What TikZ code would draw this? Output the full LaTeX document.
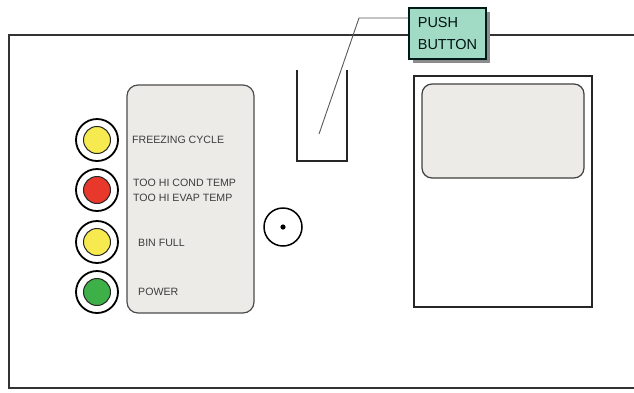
\documentclass[tikz,border=0pt]{standalone}
\usepackage{fontspec}
\setmainfont{Liberation Sans}
\usepackage{tikz}
\usetikzlibrary{shadows}
\definecolor{ledyellow}{RGB}{246, 234, 80}
\definecolor{ledred}{RGB}{232, 56, 44}
\definecolor{ledgreen}{RGB}{62, 176, 72}
\definecolor{panelgray}{RGB}{237, 235, 232}
\definecolor{buttonteal}{RGB}{162, 219, 197}
\definecolor{labelgray}{RGB}{60, 60, 60}

\begin{document}
\begin{tikzpicture}[x=1pt, y=-1pt,
    ledring/.style={circle, draw=black, line width=1.8pt, fill=white, minimum size=42pt, inner sep=0pt},
    ledlamp/.style={circle, draw=black!85, line width=1pt, minimum size=27pt, inner sep=0pt},
    ledtext/.style={anchor=west, inner sep=0pt, text=labelgray, font=\fontsize{10.6}{11}\selectfont}]
    \useasboundingbox (0,0) rectangle (634,392);

    % Cabinet front
    \draw[black!80, line width=1.4pt] (640,35) -- (9,35) -- (9,388) -- (640,388);

    % Indicator panel
    \draw[black!70, fill=panelgray, line width=1.2pt, rounded corners=11pt] (127,85) rectangle (254,313);

    % Lamps
    \node[ledring] (ring1) at (97,140) {};
    \node[ledlamp, fill=ledyellow] (lamp1) at (ring1) {};
    \node[ledring] (ring2) at (97,190) {};
    \node[ledlamp, fill=ledred] (lamp2) at (ring2) {};
    \node[ledring] (ring3) at (97,242) {};
    \node[ledlamp, fill=ledyellow] (lamp3) at (ring3) {};
    \node[ledring] (ring4) at (97,292) {};
    \node[ledlamp, fill=ledgreen] (lamp4) at (ring4) {};

    % Lamp labels
    \node[ledtext] (freeze) at (132,140) {FREEZING CYCLE};
    \node[ledtext] (cond) at (133,183) {TOO HI COND TEMP};
    \node[ledtext] (evap) at (133,198) {TOO HI EVAP TEMP};
    \node[ledtext] (binfull) at (138,243) {BIN FULL};
    \node[ledtext] (power) at (138,292) {POWER};

    % Selector knob
    \node[circle, draw=black, line width=1.5pt, fill=white, minimum size=38pt, inner sep=0pt] (knob) at (283,227) {};
    \fill[black] (knob.center) circle (2.6);

    % Push button recess
    \draw[black!85, line width=1.5pt] (297,70) -- (297,161) -- (347,161) -- (347,70);

    % Display window
    \draw[black!85, line width=1.8pt] (414,76) rectangle (592,307);
    \draw[black!75, fill=panelgray, line width=1.2pt, rounded corners=10pt] (422,84) rectangle (584,178);

    % Push button callout
    \node[draw=black!80!teal, line width=1.3pt, fill=buttonteal, minimum width=77pt, minimum height=51pt,
          align=left, inner sep=0pt, text=black!85!teal, font=\fontsize{14.5}{22}\selectfont,
          drop shadow={shadow xshift=4pt, shadow yshift=-4pt, fill=black!45, opacity=1}]
        (button) at (447.5,33.5) {PUSH\\BUTTON};
    \coordinate (tip) at (319,134);
    \coordinate (bend) at (359,18);
    \draw[black!65, line width=0.9pt] (tip) -- (bend) -- (bend -| button.west);

\end{tikzpicture}
\end{document}
